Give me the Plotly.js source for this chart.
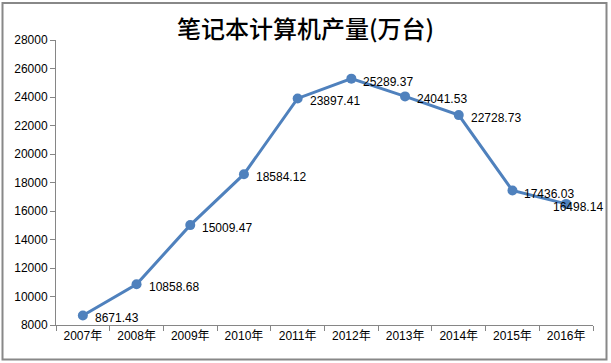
<!DOCTYPE html>
<html>
<head>
<meta charset="utf-8">
<script src="https://cdn.plot.ly/plotly-3.0.1.min.js"></script>
<style>html,body{margin:0;padding:0;background:#fff;}#chart{width:611px;height:363px;}</style>
</head>
<body>
<div id="chart"></div>
<script>
const categories = ["2007年","2008年","2009年","2010年","2011年","2012年","2013年","2014年","2015年","2016年"];
const production = [8671.43,10858.68,15009.47,18584.12,23897.41,25289.37,24041.53,22728.73,17436.03,16498.14];
const yTicks = [8000,10000,12000,14000,16000,18000,20000,22000,24000,26000,28000];

const lineColor = "#4F81BD";
const trace = {
  x: categories, y: production, type: "scatter", mode: "lines+markers",
  line: {color: lineColor, width: 3},
  marker: {color: lineColor, size: 10},
  hoverinfo: "x+y"
};
const lastIdx = categories.length - 1;
const annotations = categories.map((c, i) => ({
  x: c, y: production[i], xref: "x", yref: "y",
  text: production[i].toFixed(2), showarrow: false,
  xanchor: "left", yanchor: "middle",
  xshift: i === lastIdx ? -15 : 10, yshift: -3,
  font: {family: "Liberation Sans, Arial, sans-serif", size: 12, color: "#000"}
}));
const layout = {
  width: 611, height: 363,
  margin: {l: 56, r: 18, t: 40, b: 38},
  paper_bgcolor: "#fff", plot_bgcolor: "#fff",
  showlegend: false,
  title: {text: "笔记本计算机产量(万台)", x: 0.5, xanchor: "center", y: 0.918, yanchor: "middle",
    font: {family: "Noto Sans CJK SC, sans-serif", size: 24, color: "#000", weight: 500}},
  xaxis: {type: "category", tickmode: "array", tickvals: categories, ticktext: categories,
    range: [-0.5, 9.5], showgrid: false, zeroline: false, showline: true, linecolor: "#868686", linewidth: 1,
    ticks: "outside", tickson: "boundaries", ticklen: 5, tickcolor: "#868686",
    tickfont: {family: "Liberation Sans, Noto Sans CJK SC, sans-serif", size: 12, color: "#000"}},
  yaxis: {range: [8000, 28000], tickmode: "array", tickvals: yTicks, ticktext: yTicks.map(String),
    showgrid: false, zeroline: false, showline: true, linecolor: "#868686", linewidth: 1,
    ticks: "outside", ticklen: 5, tickcolor: "#868686",
    tickfont: {family: "Liberation Sans, Arial, sans-serif", size: 12, color: "#000"}},
  annotations: annotations,
  shapes: [{type: "rect", xref: "paper", yref: "paper",
    x0: (2.5-56)/537, x1: (606.5-56)/537, y0: (325-359.5)/285, y1: (325-3)/285,
    line: {color: "#888", width: 2}, fillcolor: "rgba(0,0,0,0)"}]
};
Plotly.newPlot("chart", [trace], layout, {displayModeBar: false, staticPlot: true});
</script>
</body>
</html>
